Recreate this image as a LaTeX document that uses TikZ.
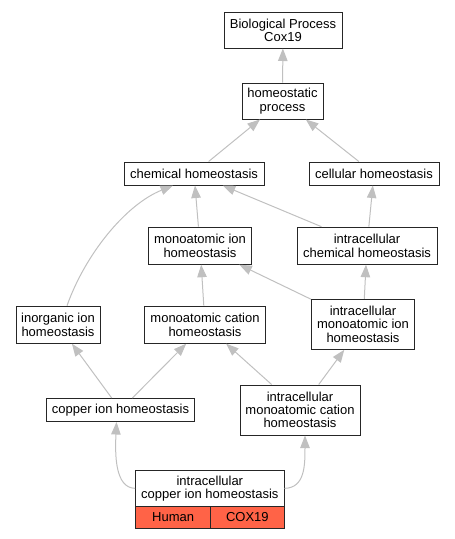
\documentclass[tikz,border=0pt]{standalone}
\usepackage{fontspec}
\setmainfont{Liberation Sans}
\usetikzlibrary{arrows.meta,calc}
\definecolor{edgegray}{RGB}{192,192,192}
\definecolor{tomatored}{RGB}{255,99,71}
\tikzset{
  term/.style={draw=black!85, line width=1pt, fill=white, inner sep=0pt, align=center,
    font=\fontsize{13}{13.3}\selectfont},
  rowcell/.style={draw=black!85, line width=1pt, fill=tomatored, inner sep=0pt,
    font=\fontsize{13}{13.3}\selectfont},
  edge/.style={draw=edgegray, line width=1pt, -{Triangle[length=12.5pt,width=9.5pt]}},
}
\begin{document}
\begin{tikzpicture}[x=1pt,y=-1pt]
\useasboundingbox (0,0) rectangle (455,539);
\node[term, minimum width=118pt, minimum height=36pt] (bp) at (283,30) {Biological Process\\Cox19};
\node[term, minimum width=81pt, minimum height=36pt] (hp) at (282.5,101) {homeostatic\\process};
\node[term, minimum width=140pt, minimum height=23pt] (chem) at (194,173.5) {chemical homeostasis};
\node[term, minimum width=130pt, minimum height=23pt] (cell) at (374,173.5) {cellular homeostasis};
\node[term, minimum width=103pt, minimum height=37pt] (monoion) at (200,245.7) {monoatomic ion\\homeostasis};
\node[term, minimum width=140pt, minimum height=37pt] (icchem) at (367,245.7) {intracellular\\chemical homeostasis};
\node[term, minimum width=84pt, minimum height=37pt] (inorg) at (58,324.7) {inorganic ion\\homeostasis};
\node[term, minimum width=121pt, minimum height=37pt] (monocat) at (205,324.7) {monoatomic cation\\homeostasis};
\node[term, minimum width=103pt, minimum height=50pt] (icmonoion) at (363,324.3) {intracellular\\monoatomic ion\\homeostasis};
\node[term, minimum width=148pt, minimum height=23pt] (copper) at (120.5,410) {copper ion homeostasis};
\node[term, minimum width=120pt, minimum height=50pt] (icmonocat) at (300,410) {intracellular\\monoatomic cation\\homeostasis};
\node[term, minimum width=148.3pt, minimum height=36.7pt] (icc) at (209.85,488.35) {intracellular\\copper ion homeostasis};
\node[rowcell, minimum width=75pt, minimum height=21.3pt] (human) at (173.2,517.35) {Human};
\node[rowcell, minimum width=73.3pt, minimum height=21.3pt] (gene) at (247.35,517.35) {COX19};

\draw[edge] (hp) -- (bp);
\draw[edge] (chem) -- (hp);
\draw[edge] (cell) -- (hp);
\draw[edge] (monoion) -- (chem);
\draw[edge] (icchem) -- (chem);
\draw[edge] ([xshift=9pt]inorg.north) .. controls (85,255) and (125,205) .. ([xshift=-21pt]chem.south);
\draw[edge] (icchem) -- (cell);
\draw[edge] (monocat) -- (monoion);
\draw[edge] (icmonoion) -- (monoion);
\draw[edge] (icmonoion) -- (icchem);
\draw[edge] (copper) -- (inorg);
\draw[edge] (copper) -- (monocat);
\draw[edge] (icmonocat) -- (monocat);
\draw[edge] (icmonocat) -- (icmonoion);
\draw[edge] (icc.west) .. controls (115,488) and (115,455) .. ([xshift=-4pt]copper.south);
\draw[edge] (icc.east) .. controls (305,488) and (305,465) .. ([xshift=5pt]icmonocat.south);
\end{tikzpicture}
\end{document}
